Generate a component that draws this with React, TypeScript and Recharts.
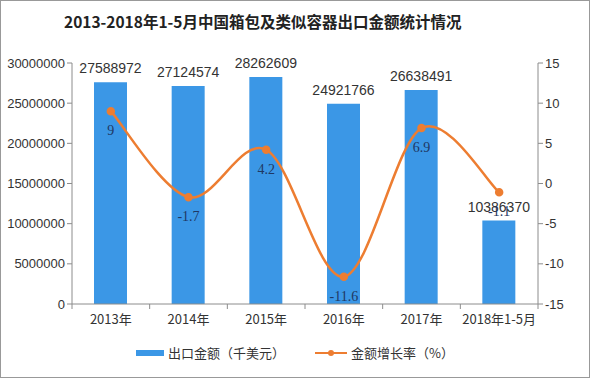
import React from 'react';
import {
  ComposedChart,
  Bar,
  Line,
  XAxis,
  YAxis,
  Legend,
  LabelList,
} from 'recharts';

const categories = ['2013年', '2014年', '2015年', '2016年', '2017年', '2018年1-5月'];
const exportValue = [27588972, 27124574, 28262609, 24921766, 26638491, 10386370];
const growthRate = [9, -1.7, 4.2, -11.6, 6.9, -1.1];
const leftTicks = [0, 5000000, 10000000, 15000000, 20000000, 25000000, 30000000];
const rightTicks = [-15, -10, -5, 0, 5, 10, 15];

const data = categories.map((name, i) => ({
  name,
  value: exportValue[i],
  rate: growthRate[i],
}));

const W = 590;
const H = 378;
const LEFT_W = 72;
const RIGHT_W = 52;
const BLUE = '#3b97e6';
const ORANGE = '#ed7d31';
const AXIS = '#8c8c8c';
const FONT = '"Liberation Sans", Arial, sans-serif';
const CJK = '"Noto Sans CJK SC", sans-serif';
const halfBand = (W - LEFT_W - RIGHT_W) / categories.length / 2;

// smooth line like the office-style "smoothed line" (catmull-rom)
const smoothCurve = (ctx: any) => {
  let pts: number[][] = [];
  return {
    areaStart() {},
    areaEnd() {},
    lineStart() {
      pts = [];
    },
    point(x: number, y: number) {
      pts.push([+x, +y]);
    },
    lineEnd() {
      const n = pts.length;
      if (!n) return;
      ctx.moveTo(pts[0][0], pts[0][1]);
      for (let i = 0; i < n - 1; i++) {
        const p0 = pts[Math.max(i - 1, 0)];
        const p1 = pts[i];
        const p2 = pts[i + 1];
        const p3 = pts[Math.min(i + 2, n - 1)];
        ctx.bezierCurveTo(
          p1[0] + (p2[0] - p0[0]) / 6,
          p1[1] + (p2[1] - p0[1]) / 6,
          p2[0] - (p3[0] - p1[0]) / 6,
          p2[1] - (p3[1] - p1[1]) / 6,
          p2[0],
          p2[1]
        );
      }
    },
  };
};

const CategoryTick = (props: any) => {
  const { x, y, payload, index } = props;
  return (
    <g>
      <line x1={x - halfBand} y1={y - 8} x2={x - halfBand} y2={y - 3} stroke={AXIS} />
      {index === categories.length - 1 && (
        <line x1={x + halfBand} y1={y - 8} x2={x + halfBand} y2={y - 3} stroke={AXIS} />
      )}
      <text x={x} y={y + 12} textAnchor="middle" fill="#333" fontSize={13} fontFamily={CJK}>
        {payload.value}
      </text>
    </g>
  );
};

const RateLabel = (props: any) => {
  const { x, y, value } = props;
  return (
    <text
      x={x}
      y={y + 24}
      textAnchor="middle"
      fill="#1f3864"
      fontSize={14}
      fontFamily='"Liberation Serif", serif'
    >
      {value}
    </text>
  );
};

const LegendContent = () => (
  <div
    style={{
      display: 'flex',
      justifyContent: 'center',
      alignItems: 'center',
      fontFamily: CJK,
      fontSize: 13,
      color: '#333',
    }}
  >
    <svg width={30} height={10} style={{ marginRight: 2 }}>
      <rect x={0} y={2} width={28} height={6} fill={BLUE} />
    </svg>
    <span>出口金额（千美元）</span>
    <svg width={34} height={10} style={{ marginLeft: 30, marginRight: 2 }}>
      <line x1={0} y1={5} x2={32} y2={5} stroke={ORANGE} strokeWidth={2} />
      <circle cx={16} cy={5} r={3} fill={ORANGE} />
    </svg>
    <span>金额增长率（%）</span>
  </div>
);

export default function App() {
  return (
    <div
      style={{
        position: 'fixed',
        left: 0,
        top: 0,
        width: W,
        height: H,
        background: '#fff',
        border: '1px solid #999',
        boxSizing: 'border-box',
      }}
    >
      <div
        style={{
          position: 'absolute',
          left: 63,
          top: 9,
          fontFamily: CJK,
          fontWeight: 'bold',
          fontSize: 15.5,
          color: '#222',
          whiteSpace: 'nowrap',
        }}
      >
        2013-2018年1-5月中国箱包及类似容器出口金额统计情况
      </div>
      <div style={{ position: 'absolute', left: -1, top: -1 }}>
        <ComposedChart
          width={W}
          height={H}
          data={data}
          margin={{ top: 63, right: 0, bottom: 25, left: 0 }}
        >
          <XAxis
            dataKey="name"
            height={30}
            tickLine={false}
            axisLine={{ stroke: AXIS }}
            tick={<CategoryTick />}
            interval={0}
          />
          <YAxis
            yAxisId="left"
            width={LEFT_W}
            domain={[0, 30000000]}
            ticks={leftTicks}
            tick={{ fill: '#333', fontSize: 13, fontFamily: FONT }}
            tickLine={{ stroke: AXIS }}
            axisLine={{ stroke: AXIS }}
            tickSize={5}
            interval={0}
          />
          <YAxis
            yAxisId="right"
            orientation="right"
            width={RIGHT_W}
            domain={[-15, 15]}
            ticks={rightTicks}
            tick={{ fill: '#333', fontSize: 13, fontFamily: FONT }}
            tickLine={{ stroke: AXIS }}
            axisLine={{ stroke: AXIS }}
            tickSize={5}
            interval={0}
          />
          <Legend
            verticalAlign="bottom"
            content={<LegendContent />}
            wrapperStyle={{ top: 343, left: 0, width: W }}
          />
          <Bar
            yAxisId="left"
            dataKey="value"
            fill={BLUE}
            barSize={33}
            isAnimationActive={false}
          >
            <LabelList
              dataKey="value"
              position="top"
              offset={9}
              fill="#333"
              fontSize={14}
              fontFamily={FONT}
            />
          </Bar>
          <Line
            yAxisId="right"
            type={smoothCurve as any}
            dataKey="rate"
            stroke={ORANGE}
            strokeWidth={2.5}
            dot={{ r: 3, fill: ORANGE, stroke: ORANGE }}
            isAnimationActive={false}
          >
            <LabelList dataKey="rate" content={<RateLabel />} />
          </Line>
        </ComposedChart>
      </div>
    </div>
  );
}
